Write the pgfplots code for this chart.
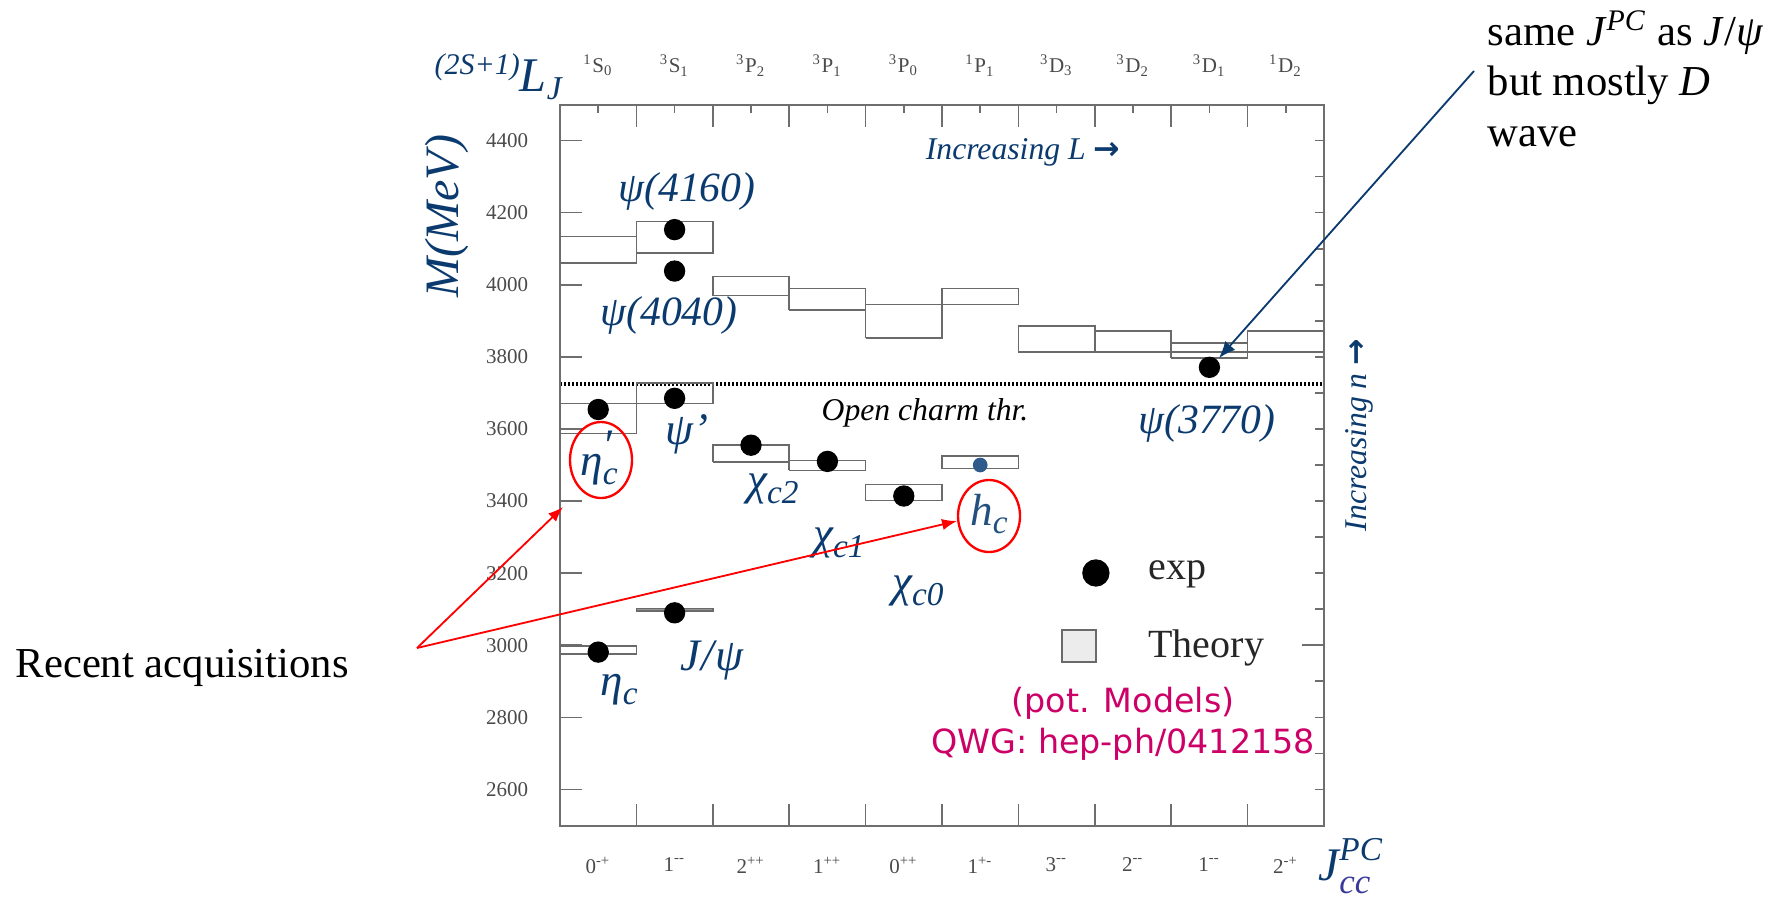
\documentclass[border=0pt]{standalone}
\usepackage{fontspec}
\setmainfont{Liberation Serif}
\newfontfamily\sansfnt{DejaVu Sans}
\usepackage{graphicx}
\usepackage{pgfplots}
\usepackage{pgfplotstable}
\pgfplotsset{compat=1.18}
\usetikzlibrary{arrows.meta}

\definecolor{navy}{HTML}{0B3A6E}
\definecolor{hcblue}{HTML}{2F5B8C}
\definecolor{hclabel}{HTML}{24507F}
\definecolor{qwg}{HTML}{CC0066}
\definecolor{framegray}{HTML}{6E6E6E}
\definecolor{boxgray}{HTML}{6A6A6A}
\definecolor{ticktext}{HTML}{4A4A4A}
\definecolor{legtext}{HTML}{262626}
\definecolor{ccblue}{HTML}{3A3A9A}

\newcommand\fs[1]{\fontsize{#1}{#1}\selectfont}
% one theory band: category from #1 to #2, mass range #3..#4 (MeV)
\newcommand\thbox[4]{\addplot[thy] coordinates {(#1,#3) (#2,#3) (#2,#4) (#1,#4) (#1,#3)};}

% measured charmonium masses (MeV), category index = J^PC column
\pgfplotstableread{
x y
0 2981
0 3654
1 3090
1 3685
1 4038
1 4153
2 3555
3 3510
4 3414
8 3771
}\expdata

\pgfplotsset{
  thy/.style={draw=boxgray, line width=0.45pt, line join=miter, forget plot},
  frameaxis/.style={
    at={(168pt,21.15pt)}, anchor=south west, scale only axis,
    width=229.2pt, height=216.3pt,
    xmin=-0.5, xmax=9.5, ymin=2500, ymax=4500,
    tick align=inside,
    tick style={draw=framegray, line width=0.5pt},
    tick label style={font=\fs{6.3}, text=ticktext},
  },
}

\begin{document}
\begin{tikzpicture}
\path[use as bounding box] (0pt,0pt) rectangle (532.2pt,268.8pt);

% upper axis: spectroscopic labels, short ticks at column centres and every 100 MeV on the right
\begin{axis}[frameaxis,
  axis line style={draw=none},
  major tick length=2.6pt,
  xtick={0,...,9},
  xticklabels={\textsuperscript{1}S\textsubscript{0}, \textsuperscript{3}S\textsubscript{1},
    \textsuperscript{3}P\textsubscript{2}, \textsuperscript{3}P\textsubscript{1},
    \textsuperscript{3}P\textsubscript{0}, \textsuperscript{1}P\textsubscript{1},
    \textsuperscript{3}D\textsubscript{3}, \textsuperscript{3}D\textsubscript{2},
    \textsuperscript{3}D\textsubscript{1}, \textsuperscript{1}D\textsubscript{2}},
  xtick pos=right, xticklabel pos=right,
  xticklabel style={yshift=5pt},
  ytick={2600,2700,...,4400}, yticklabels={}, ytick pos=right,
  extra y ticks={3000}, extra y tick labels={},
  extra y tick style={major tick length=6.6pt},
]
% open charm threshold
\addplot[black, line width=1pt, dash pattern=on 0.55pt off 0.65pt, forget plot]
  coordinates {(-0.5,3725) (9.5,3725)};
\end{axis}

% main axis: masses, theory bands and measured states
\begin{axis}[frameaxis,
  axis line style={draw=framegray, line width=0.6pt},
  major tick length=6.6pt, minor tick length=6.6pt,
  xtick={0,...,9},
  xticklabels={0\textsuperscript{-+}, 1\textsuperscript{{-}{-}}, 2\textsuperscript{++},
    1\textsuperscript{++}, 0\textsuperscript{++}, 1\textsuperscript{+-},
    3\textsuperscript{{-}{-}}, 2\textsuperscript{{-}{-}}, 1\textsuperscript{{-}{-}},
    2\textsuperscript{-+}},
  major x tick style={draw=none},
  minor xtick={0.5,1.5,...,8.5},
  xtick pos=both, xticklabel pos=left,
  xticklabel style={yshift=-6pt},
  ytick={2600,2800,...,4400}, ytick pos=left,
  yticklabel style={xshift=-6pt},
  /pgf/number format/1000 sep={},
  /pgf/number format/assume math mode=true,
  legend cell align=left,
  legend style={at={(0.6558,0.378)}, anchor=north west, draw=none, fill=none,
    inner sep=0pt, outer sep=0pt, row sep=9.9pt,
    nodes={inner sep=0pt, font=\fs{12}, text=legtext}},
]
\addlegendimage{legend image code/.code={
  \path[draw=none, fill=none] (0pt,-6pt) rectangle (26pt,6pt);
  \fill[black] (10.2pt,0pt) circle (3.9pt);}}
\addlegendentry{exp}
\addlegendimage{legend image code/.code={
  \path[draw=none, fill=none] (0pt,-6pt) rectangle (26pt,6pt);
  \draw[boxgray, fill=gray!15, line width=0.5pt] (0pt,-4.8pt) rectangle (10.2pt,4.8pt);}}
\addlegendentry{Theory}

% potential-model predictions
\thbox{-0.5}{0.5}{4061}{4134}
\thbox{-0.5}{0.5}{3588}{3671}
\thbox{-0.5}{0.5}{2976}{2998}
\thbox{0.5}{1.5}{4088}{4176}
\thbox{0.5}{1.5}{3671}{3727}
\addplot[draw=boxgray, fill=boxgray!70, line width=0.45pt, forget plot]
  coordinates {(0.5,3095) (1.5,3095) (1.5,3102) (0.5,3102) (0.5,3095)};
\thbox{1.5}{2.5}{3970}{4023}
\thbox{1.5}{2.5}{3508}{3556}
\thbox{2.5}{3.5}{3930}{3990}
\thbox{2.5}{3.5}{3485}{3512}
\thbox{3.5}{4.5}{3853}{3945}
\thbox{3.5}{4.5}{3401}{3446}
\thbox{4.5}{5.5}{3945}{3989}
\thbox{4.5}{5.5}{3490}{3525}
\thbox{5.5}{6.5}{3813}{3885}
\thbox{6.5}{7.5}{3813}{3872}
\thbox{7.5}{8.5}{3797}{3838}
\thbox{7.5}{8.5}{3813}{3838}
\thbox{8.5}{9.5}{3813}{3872}

% experimental masses
\addplot[only marks, mark=*, mark size=3pt, black, forget plot] table {\expdata};
\addplot[only marks, mark=*, mark size=2pt, hcblue, forget plot] coordinates {(5,3500)};
\end{axis}

% annotations, positioned in pixel units of the canvas (origin top left)
\begin{scope}[x=0.3pt, y=-0.3pt, shift={(0pt,268.8pt)}]
  \node[rotate=90, text=navy, font=\fs{14.4}\itshape] at (447,216) {M(MeV)};
  \node[anchor=base west, inner sep=0pt, text=navy, font=\itshape] at (434,91)
    {\fs{9}\raisebox{5pt}{(2S+1)}\fs{14.5}L\raisebox{-2.4pt}{\fs{10}J}};
  \node[anchor=base west, inner sep=0pt, text=navy, font=\itshape] at (1318,880)
    {\fs{14}J\rlap{\raisebox{6pt}{\fs{10}PC}}\raisebox{-4pt}{\fs{10.5}\color{ccblue}cc}};

  \node[text=navy, font=\fs{9.5}\itshape] at (1023,152) {Increasing L {\sansfnt\upshape\bfseries →}};
  \node[rotate=90, text=navy, font=\fs{9.5}\itshape] at (1359,435) {Increasing n {\sansfnt\upshape\bfseries →}};
  \node[font=\fs{9.5}\itshape] at (925,413) {Open charm thr.};

  \begin{scope}[text=navy]
    \node[font=\fs{12.5}\itshape] at (687,191) {ψ(4160)};
    \node[font=\fs{12.5}\itshape] at (669,315) {ψ(4040)};
    \node[font=\fs{12.5}\itshape] at (1207,423) {ψ(3770)};
    \node[font=\fs{13.5}\itshape] at (687,434) {ψ’};
    \node[font=\fs{13.5}\itshape] at (599,458)
      {η\rlap{\raisebox{4.6pt}{′}}\raisebox{-2.8pt}{\fs{10}c}};
    \node[font=\fs{13.5}\itshape] at (773,489) {χ\raisebox{-2.6pt}{\fs{10}c2}};
    \node[font=\fs{13.5}\itshape] at (839,543) {χ\raisebox{-2.6pt}{\fs{10}c1}};
    \node[font=\fs{13.5}\itshape] at (918,591) {χ\raisebox{-2.6pt}{\fs{10}c0}};
    \node[font=\fs{13.5}\itshape] at (712,660) {J\kern0.5pt/\kern0.5ptψ};
    \node[font=\fs{13.5}\itshape] at (619,690) {η\raisebox{-2.6pt}{\fs{10}c}};
  \end{scope}
  \node[text=hclabel, font=\fs{13.5}\itshape] at (989,514) {h\raisebox{-2.6pt}{\fs{10}c}};

  \draw[red, line width=0.7pt] (601,460) ellipse [x radius=9.3pt, y radius=11.4pt];
  \draw[red, line width=0.7pt] (989,516) ellipse [x radius=9.3pt, y radius=10.8pt];
  \draw[red, line width=0.55pt, -{Latex[length=4.5pt,width=3.4pt]}] (417,648) -- (563,507);
  \draw[red, line width=0.55pt, -{Latex[length=4.5pt,width=3.4pt]}] (417,648) -- (957,521);
  \node[anchor=base west, inner sep=0pt, font=\fs{12.8}] at (15,677) {Recent acquisitions};

  \draw[navy, line width=0.55pt, -{Latex[length=5pt,width=4pt]}] (1474,71) -- (1219,358);
  \node[anchor=base west, inner sep=0pt, font=\fs{12.8}] at (1487,45)
    {same \textit{J}\textsuperscript{\textit{PC}} as \textit{J}/\textit{ψ}};
  \node[anchor=base west, inner sep=0pt, font=\fs{12.8}] at (1487,95) {but mostly \textit{D}};
  \node[anchor=base west, inner sep=0pt, font=\fs{12.8}] at (1487,146) {wave};

  \node[text=qwg, font=\sansfnt\fontsize{10}{12.3}\selectfont, align=center] at (1123,724)
    {(pot. Models)\\QWG: hep-ph/0412158};
\end{scope}
\end{tikzpicture}
\end{document}
